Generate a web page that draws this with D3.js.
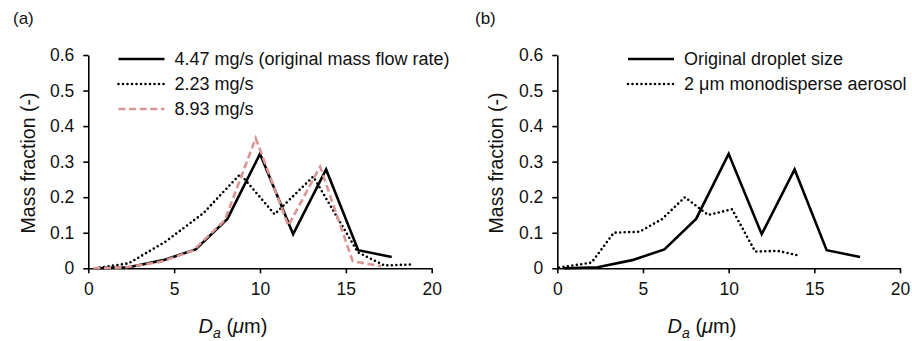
<!DOCTYPE html>
<html>
<head>
<meta charset="utf-8">
<script src="https://cdnjs.cloudflare.com/ajax/libs/d3/7.8.5/d3.min.js"></script>
<style>
  body { margin: 0; background: #fff; }
  svg text { font-family: "Liberation Sans", Arial, sans-serif; fill: #111; }
</style>
</head>
<body>
<div id="chart"></div>
<script>
// ---- data ----
// panel (a): mass flow rate
var origX   = [0.4, 2.35, 4.37, 6.25, 8.1, 10.0, 11.93, 13.85, 15.72, 17.67];
var origY   = [0, 0.003, 0.023, 0.053, 0.139, 0.322, 0.096, 0.278, 0.051, 0.032];
var lowX    = [0.4, 2.35, 4.5, 6.7, 8.85, 10.85, 13.1, 15.7, 17.25, 18.95];
var lowY    = [0, 0.014, 0.075, 0.155, 0.265, 0.152, 0.258, 0.045, 0.008, 0.011];
var highX   = [0.3, 2.2, 4.2, 6.1, 7.95, 9.75, 11.65, 13.5, 15.4, 17.05];
var highY   = [0, 0.003, 0.018, 0.05, 0.135, 0.366, 0.12, 0.286, 0.02, 0.006];
// panel (b): droplet size
var monoX   = [0.1, 2.0, 3.3, 4.8, 6.1, 7.45, 8.8, 10.2, 11.55, 12.85, 14.2];
var monoY   = [0.002, 0.016, 0.1, 0.103, 0.138, 0.2, 0.15, 0.166, 0.047, 0.049, 0.035];

var xTicks = [0, 5, 10, 15, 20];
var yTicks = [0, 0.1, 0.2, 0.3, 0.4, 0.5, 0.6];
var legendA = ["4.47 mg/s (original mass flow rate)", "2.23 mg/s", "8.93 mg/s"];
var legendB = ["Original droplet size", "2 \u03bcm monodisperse aerosol"];

var styles = {
  solid:  { color: "#000", dash: null, cap: "butt" },
  dotted: { color: "#000", dash: "0,4.5", cap: "round" },
  dashed: { color: "#d99694", dash: "7,3.6", cap: "butt" }
};

function zip(xs, ys) { return xs.map(function(x, i){ return [x, ys[i]]; }); }

var svg = d3.select("#chart").append("svg")
  .attr("width", 912).attr("height", 341);

function drawPanel(p) {
  var x = d3.scaleLinear().domain([0, 20]).range([p.left, p.right]);
  var y = d3.scaleLinear().domain([0, 0.6]).range([268.3, 55]);
  var g = svg.append("g");

  // axes
  var xa = g.append("g")
    .attr("transform", "translate(0," + y(0) + ")")
    .call(d3.axisBottom(x).tickValues(xTicks).tickSize(5).tickSizeOuter(0).tickPadding(9).tickFormat(d3.format("d")));
  var ya = g.append("g")
    .attr("transform", "translate(" + x(0) + ",0)")
    .call(d3.axisLeft(y).tickValues(yTicks).tickSize(5).tickSizeOuter(0).tickPadding(9)
      .tickFormat(function(d){ return d === 0 ? "0" : d3.format(".1f")(d); }));
  [xa, ya].forEach(function(a){
    a.selectAll("path, line").attr("stroke", "#000").attr("stroke-width", 1.6);
    a.selectAll("text").style("font-size", "17.5px").attr("fill", "#111");
  });

  // axis titles
  var xt = g.append("text")
    .attr("x", p.xTitleX).attr("y", 333)
    .attr("text-anchor", "middle")
    .style("font-size", "20px");
  xt.append("tspan").style("font-style", "italic").text("D");
  xt.append("tspan").style("font-style", "italic").style("font-size", "14px").attr("dy", 5).text("a");
  xt.append("tspan").attr("dy", -5).text(" (");
  xt.append("tspan").style("font-style", "italic").text("\u03bc");
  xt.append("tspan").text("m)");

  g.append("text")
    .attr("transform", "translate(" + p.yTitleX + ",163) rotate(-90)")
    .attr("text-anchor", "middle")
    .style("font-size", "19.5px")
    .text("Mass fraction (-)");

  // panel letter
  g.append("text").attr("x", p.labelX).attr("y", 24)
    .style("font-size", "17px").text(p.label);

  // lines
  var line = d3.line().x(function(d){ return x(d[0]); }).y(function(d){ return y(d[1]); });
  p.series.forEach(function(s){
    var st = styles[s.style];
    g.append("path")
      .datum(zip(s.xs, s.ys))
      .attr("d", line)
      .attr("fill", "none")
      .attr("stroke", st.color)
      .attr("stroke-width", 2.6)
      .attr("stroke-linejoin", "miter")
      .attr("stroke-linecap", st.cap)
      .attr("stroke-dasharray", st.dash);
  });

  // legend
  p.series.forEach(function(s, i){
    var st = styles[s.style];
    var ly = 59 + i * 25;
    g.append("line")
      .attr("x1", p.legX).attr("x2", p.legX + 46)
      .attr("y1", ly).attr("y2", ly)
      .attr("stroke", st.color).attr("stroke-width", 2.6)
      .attr("stroke-linecap", st.cap)
      .attr("stroke-dasharray", st.dash);
    g.append("text")
      .attr("x", p.legX + 56).attr("y", ly)
      .attr("dy", "0.36em")
      .style("font-size", "18px")
      .text(s.name);
  });
}

drawPanel({
  left: 88.3, right: 431.7, label: "(a)", labelX: 13, xTitleX: 233, yTitleX: 35, legX: 118.5,
  series: [
    { name: legendA[0], xs: origX, ys: origY, style: "solid" },
    { name: legendA[1], xs: lowX, ys: lowY, style: "dotted" },
    { name: legendA[2], xs: highX, ys: highY, style: "dashed" }
  ]
});

drawPanel({
  left: 557.3, right: 900, label: "(b)", labelX: 475, xTitleX: 702, yTitleX: 503, legX: 628,
  series: [
    { name: legendB[0], xs: origX, ys: origY, style: "solid" },
    { name: legendB[1], xs: monoX, ys: monoY, style: "dotted" }
  ]
});
</script>
</body>
</html>
